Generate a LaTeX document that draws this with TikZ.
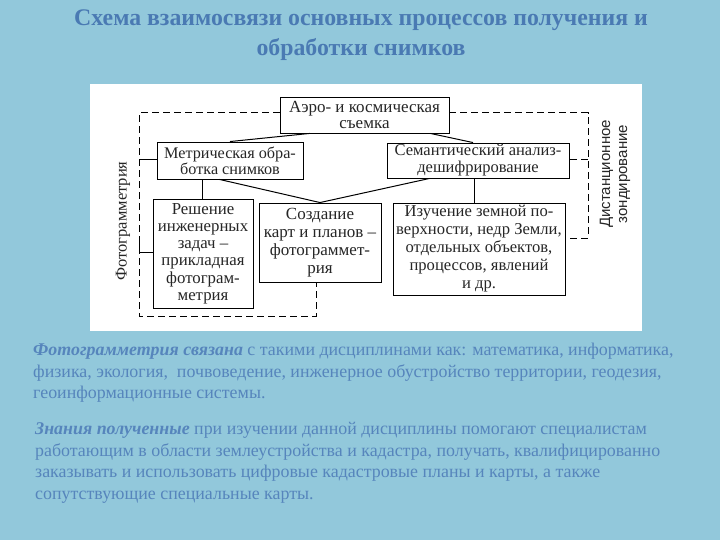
\documentclass[tikz,border=0pt]{standalone}
\usepackage{fontspec}
\setmainfont{Liberation Serif}
\newfontfamily\sansf{Liberation Sans}
\usetikzlibrary{calc}
\definecolor{bgblue}{HTML}{92C8DB}
\definecolor{titleblue}{HTML}{4A7AB3}
\definecolor{textblue}{HTML}{5685BC}
\tikzset{
  box/.style={draw, line width=0.9pt, fill=white, align=center, inner sep=0pt, text=black!85},
  dline/.style={draw, line width=1pt, dash pattern=on 7pt off 4pt},
  sline/.style={draw, line width=1pt},
  para/.style={anchor=north west, align=left, text=textblue, font=\fontsize{17.9}{21.6}\selectfont, inner sep=0pt}
}
\begin{document}
\begin{tikzpicture}[x=1pt,y=-1pt]
\fill[bgblue] (0,0) rectangle (720,540);
\useasboundingbox (0,0) rectangle (720,540);
% title
\node[text=titleblue, font=\bfseries\fontsize{23.8}{30}\selectfont, align=center] (title) at (361,35)
  {Схема взаимосвязи основных процессов получения и\\обработки снимков};
% white panel
\fill[white] (90,84) rectangle (642,331);
% boxes
\node[box, minimum width=169, minimum height=36, font=\fontsize{17}{16.5}\selectfont] (aero) at (364.5,115) {Аэро- и космическая\\съемка};
\node[box, minimum width=146, minimum height=37, font=\fontsize{16.2}{16}\selectfont] (metr) at (230,160.5) {Метрическая обра-\\ботка снимков};
\node[box, minimum width=182, minimum height=35, font=\fontsize{16.5}{17}\selectfont] (sem) at (478,160.5) {Семантический анализ-\\дешифрирование};
\node[box, minimum width=100, minimum height=109, font=\fontsize{16.8}{17.2}\selectfont] (resh) at (203,253.5) {Решение\\инженерных\\задач –\\прикладная\\фотограм-\\метрия};
\node[box, minimum width=122, minimum height=79, font=\fontsize{17}{18}\selectfont] (sozd) at (320,242.5) {Создание\\карт и планов –\\фотограммет-\\рия};
\node[box, minimum width=172, minimum height=92, font=\fontsize{16.6}{18}\selectfont] (izuch) at (479,249) {Изучение земной по-\\верхности, недр Земли,\\отдельных объектов,\\процессов, явлений\\и др.};
% solid connectors
\draw[sline] ($(aero.south west)+(30,0)$) -- (metr.north);
\draw[sline] ($(aero.south east)+(-19,0)$) -- ($(sem.north)+(-5,0)$);
\draw[sline] ($(metr.south)+(-28,0)$) -- ($(resh.north)+(-1,0)$);
\draw[sline] ($(metr.south west)+(63,0)$) -- (sozd.north);
\draw[sline] ($(sem.south west)+(43,0)$) -- (sozd.north);
\draw[sline] ($(sem.south)+(-4,0)$) -- ($(izuch.north)+(-5,0)$);
% dashed frame
\coordinate (l1) at (139,113);
\coordinate (l2) at (139,316);
\coordinate (l3) at (316,316);
\coordinate (r1) at (588,113);
\coordinate (r2) at (588,238);
\draw[dline] (aero.west |- l1) -- (l1) -- (l2) -- (l3) -- (l3 |- sozd.south);
\draw[dline] (aero.east |- r1) -- (r1) -- (r2) -- (r2 -| izuch.east);
% ticks
\draw[sline] (139,160) -- (metr.west |- 0,160);
\draw[sline] (139,239) -- (139,252) -- (resh.west |- 0,252);
\draw[dline] (588,160) -- (sem.east |- 0,160);
% side labels
\node[rotate=90, font=\fontsize{16.5}{17}\selectfont, text=black!85] (foto) at (123,221) {Фотограмметрия};
\node[rotate=90, font=\sansf\fontsize{15}{17}\selectfont, align=center, text=black!85] (dist) at (615,174) {Дистанционное\\зондирование};
% paragraphs
\node[para] (p1) at (33,343) {\textbf{\textit{Фотограмметрия связана}} с такими дисциплинами как: математика, информатика,\\физика, экология,\ \ почвоведение, инженерное обустройство территории, геодезия,\\геоинформационные системы.};
\node[para] (p2) at (35,422) {\textbf{\textit{Знания полученные}} при изучении данной дисциплины помогают специалистам\\работающим в области землеустройства и кадастра, получать, квалифицированно\\заказывать и использовать цифровые кадастровые планы и карты, а также\\сопутствующие специальные карты.};
\end{tikzpicture}
\end{document}
